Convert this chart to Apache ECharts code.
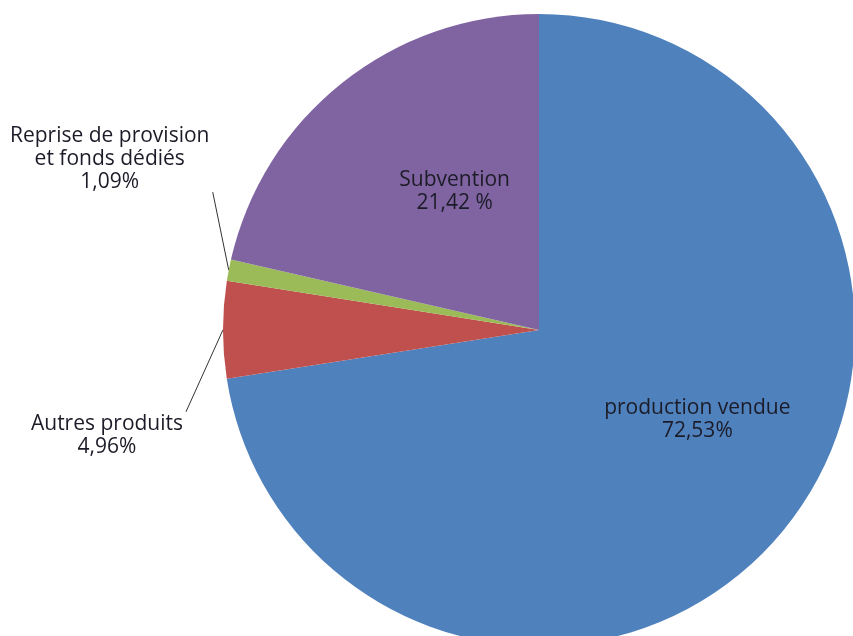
<!DOCTYPE html>
<html><head><meta charset="utf-8">
<script src="https://cdn.jsdelivr.net/npm/echarts@6/dist/echarts.min.js"></script>
<style>html,body{margin:0;padding:0;background:#fff}#c{width:853px;height:636px}</style>
</head><body><div id="c"></div>
<script>
const categories = ['production vendue', 'Autres produits', 'Reprise de provision\net fonds dédiés', 'Subvention'];
const values = [72.53, 4.96, 1.09, 21.42];
const valueLabels = ['72,53%', '4,96%', '1,09%', '21,42 %'];
const colors = ['#4F81BD', '#C0504D', '#9BBB59', '#8064A2'];
const labelPlacement = ['inside', 'outside', 'outside', 'inside'];

const chart = echarts.init(document.getElementById('c'));
const data = categories.map((name, i) => ({
  name: name,
  value: values[i],
  itemStyle: { color: colors[i] },
  label: { position: labelPlacement[i], formatter: name + '\n' + valueLabels[i] },
  labelLine: { show: labelPlacement[i] === 'outside' }
}));

chart.setOption({
  animation: false,
  backgroundColor: '#fff',
  series: [{
    type: 'pie',
    center: [539, 330],
    radius: 316,
    startAngle: 90,
    clockwise: true,
    avoidLabelOverlap: false,
    itemStyle: { borderWidth: 0 },
    label: {
      fontFamily: 'Open Sans',
      fontSize: 21,
      lineHeight: 23,
      color: '#1c1c28',
      align: 'center'
    },
    labelLine: { length: 10, length2: 0, lineStyle: { color: '#333', width: 1 } },
    labelLayout: function (p) {
      const i = p.dataIndex;
      if (i === 0) return { dx: 36, dy: -15 };
      if (i === 3) return { dx: 16, dy: -13 };
      const s = p.labelLinePoints[0];
      if (i === 2) {
        const end = [s[0] - 16, s[1] - 78];
        return { x: s[0] - 119, y: s[1] - 77, align: 'center', verticalAlign: 'bottom',
                 labelLinePoints: [s, end, end] };
      }
      const end = [s[0] - 37, s[1] + 82];
      return { x: s[0] - 116, y: s[1] + 83, align: 'center', verticalAlign: 'top',
               labelLinePoints: [s, end, end] };
    },
    data: data
  }]
});
</script>
</body></html>
